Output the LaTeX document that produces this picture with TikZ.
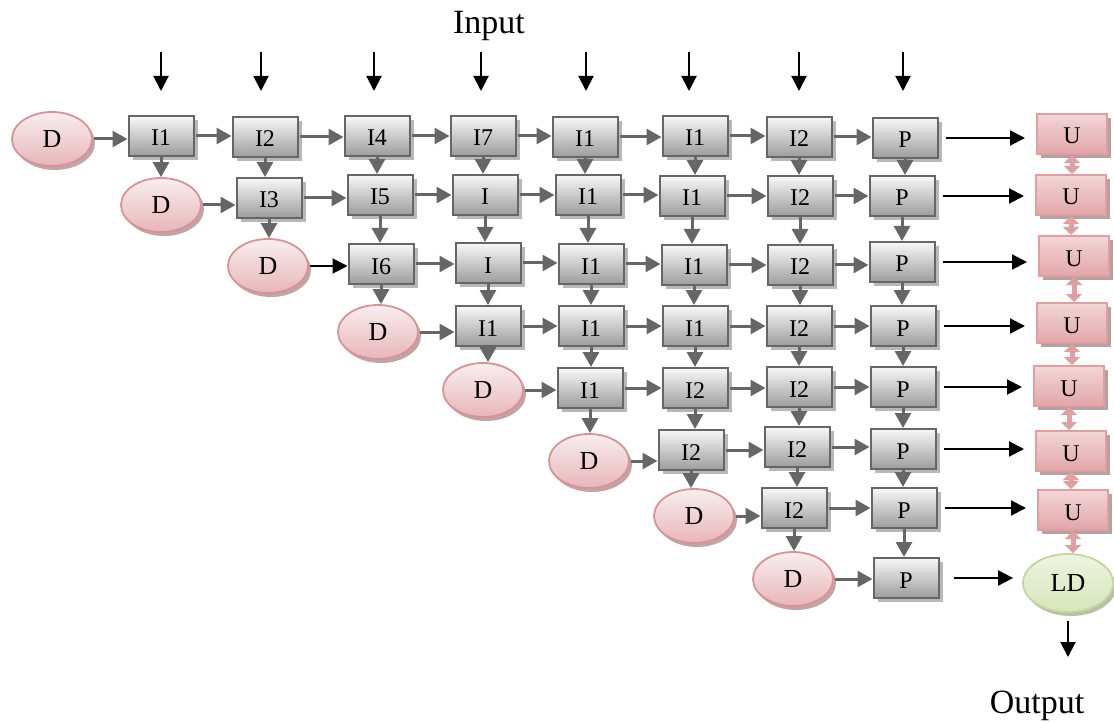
\documentclass[tikz,border=0pt]{standalone}
\usepackage{fontspec}
\setmainfont{Liberation Serif}
\usetikzlibrary{shapes.geometric,arrows.meta,shadows}
\definecolor{boxdraw}{HTML}{666666}
\definecolor{boxtop}{HTML}{F8F8F8}
\definecolor{boxbot}{HTML}{9C9C9C}
\definecolor{arrgray}{HTML}{666666}
\definecolor{pinkdraw}{HTML}{D99395}
\definecolor{pinktop}{HTML}{F8EEEF}
\definecolor{pinkbot}{HTML}{E8B6B9}
\definecolor{ubdraw}{HTML}{E0A0A2}
\definecolor{ubtop}{HTML}{F3D6D7}
\definecolor{ubbot}{HTML}{E2A6A9}
\definecolor{pinkarr}{HTML}{E0A0A2}
\definecolor{greendraw}{HTML}{C3D89A}
\definecolor{greentop}{HTML}{EEF4E2}
\definecolor{greenbot}{HTML}{D6E6B8}
\tikzset{
  cell/.style={draw=boxdraw, line width=2pt, top color=boxtop, bottom color=boxbot,
    minimum width=65pt, minimum height=40pt, inner sep=0pt,
    font=\fontsize{24}{24}\selectfont, text height=20pt, text depth=0pt,
    drop shadow={shadow xshift=4pt, shadow yshift=-4pt, fill=black!35, opacity=0.8}},
  dell/.style={ellipse, draw=pinkdraw, line width=1.8pt, top color=pinktop, bottom color=pinkbot,
    minimum width=80pt, minimum height=54pt, inner sep=0pt,
    font=\fontsize{26}{26}\selectfont,
    drop shadow={shadow xshift=3pt, shadow yshift=-4pt, fill=pinkdraw!70!black, opacity=0.6}},
  ubox/.style={draw=ubdraw, line width=2pt, top color=ubtop, bottom color=ubbot,
    minimum width=70pt, minimum height=40pt, inner sep=0pt,
    font=\fontsize{24}{24}\selectfont, text height=20pt, text depth=0pt,
    drop shadow={shadow xshift=4pt, shadow yshift=-4pt, fill=ubdraw!60!black, opacity=0.6}},
  gell/.style={ellipse, draw=greendraw, line width=1.8pt, top color=greentop, bottom color=greenbot,
    minimum width=90pt, minimum height=58pt, inner sep=0pt,
    font=\fontsize{26}{26}\selectfont,
    drop shadow={shadow xshift=3pt, shadow yshift=-4pt, fill=greendraw!70!black, opacity=0.6}},
  garr/.style={draw=arrgray, line width=3pt, -{Triangle[length=15pt,width=16pt]}},
  barr/.style={draw=black, line width=2pt, -{Triangle[length=15pt,width=15pt]}},
  parr/.style={draw=pinkarr, line width=5pt, {Triangle[length=8pt,width=16pt]}-{Triangle[length=8pt,width=16pt]}},
  bigtxt/.style={font=\fontsize{34}{34}\selectfont, inner sep=0pt},
}
\begin{document}
\begin{tikzpicture}[x=1pt,y=-1pt]
\useasboundingbox (0,0) rectangle (1114,722);
% Row 1
\node[dell] (D1) at (52,139) {D};
\node[cell] (a11) at (161,136) {I1};
\node[cell] (a12) at (265,137) {I2};
\node[cell] (a13) at (377,136) {I4};
\node[cell] (a14) at (483,136) {I7};
\node[cell] (a15) at (585,137) {I1};
\node[cell] (a16) at (695,136) {I1};
\node[cell] (a17) at (799,137) {I2};
\node[cell] (a18) at (905,138) {P};
\node[ubox] (U1) at (1072,134) {U};
% Row 2
\node[dell] (D2) at (161,205) {D};
\node[cell] (a22) at (269,198) {I3};
\node[cell] (a23) at (380,195) {I5};
\node[cell] (a24) at (485,195) {I};
\node[cell] (a25) at (588,195) {I1};
\node[cell] (a26) at (692,196) {I1};
\node[cell] (a27) at (800,196) {I2};
\node[cell] (a28) at (902,196) {P};
\node[ubox] (U2) at (1071,195) {U};
% Row 3
\node[dell] (D3) at (268,266) {D};
\node[cell] (a33) at (381,264) {I6};
\node[cell] (a34) at (488,263) {I};
\node[cell] (a35) at (591,264) {I1};
\node[cell] (a36) at (694,265) {I1};
\node[cell] (a37) at (800,265) {I2};
\node[cell] (a38) at (902,262) {P};
\node[ubox] (U3) at (1074,256) {U};
% Row 4
\node[dell] (D4) at (378,332) {D};
\node[cell] (a44) at (488,326) {I1};
\node[cell] (a45) at (591,326) {I1};
\node[cell] (a46) at (695,326) {I1};
\node[cell] (a47) at (799,326) {I2};
\node[cell] (a48) at (903,326) {P};
\node[ubox] (U4) at (1072,323) {U};
% Row 5
\node[dell] (D5) at (483,390) {D};
\node[cell] (a55) at (590,388) {I1};
\node[cell] (a56) at (695,388) {I2};
\node[cell] (a57) at (799,387) {I2};
\node[cell] (a58) at (903,387) {P};
\node[ubox] (U5) at (1069,386) {U};
% Row 6
\node[dell] (D6) at (589,461) {D};
\node[cell] (a66) at (691,450) {I2};
\node[cell] (a67) at (797,447) {I2};
\node[cell] (a68) at (903,449) {P};
\node[ubox] (U6) at (1071,451) {U};
% Row 7
\node[dell] (D7) at (694,516) {D};
\node[cell] (a77) at (794,508) {I2};
\node[cell] (a78) at (904,508) {P};
\node[ubox] (U7) at (1073,510) {U};
% Row 8
\node[dell] (D8) at (793,579) {D};
\node[cell] (a88) at (906,578) {P};
\node[gell] (LD) at (1068,583) {LD};
% texts
\node[bigtxt] (input) at (489,26) {Input};
\node[bigtxt] (output) at (1037,706) {Output};
% horizontal gray arrows
\foreach \a/\b in {D1/a11,a11/a12,a12/a13,a13/a14,a14/a15,a15/a16,a16/a17,a17/a18,
  D2/a22,a22/a23,a23/a24,a24/a25,a25/a26,a26/a27,a27/a28,
  a33/a34,a34/a35,a35/a36,a36/a37,a37/a38,
  D4/a44,a44/a45,a45/a46,a46/a47,a47/a48,
  D5/a55,a55/a56,a56/a57,a57/a58,
  D6/a66,a66/a67,a67/a68,
  D7/a77,a77/a78,
  D8/a88}
  \draw[garr, shorten <=1pt] (\a.east) -- (\b.west |- \a.east);
\draw[barr, shorten <=1pt] (D3.east) -- (a33.west |- D3.east);
% vertical gray arrows
\foreach \a/\b in {a11/D2,
  a12/a22,a22/D3,
  a13/a23,a23/a33,a33/D4,
  a14/a24,a24/a34,a34/a44,a44/D5,
  a15/a25,a25/a35,a35/a45,a45/a55,a55/D6,
  a16/a26,a26/a36,a36/a46,a46/a56,a56/a66,a66/D7,
  a17/a27,a27/a37,a37/a47,a47/a57,a57/a67,a67/a77,a77/D8,
  a18/a28,a28/a38,a38/a48,a48/a58,a58/a68,a68/a78,a78/a88}
  \draw[garr] (\a.south) -- (\a.south |- \b.north);
% input arrows
\foreach \n/\x in {1/161,2/261,3/374,4/481,5/586,6/689,7/799,8/903} {
  \coordinate (is\n) at (\x,52);
  \coordinate (ie\n) at (\x,91);
  \draw[barr] (is\n) -- (ie\n);
}
% outputs to U column
\foreach \r in {1,...,7}
  \draw[barr, shorten <=7pt, shorten >=11pt] (a\r8.east) -- (U\r.west |- a\r8.east);
\draw[barr, shorten <=14pt, shorten >=9pt] (a88.east) -- (LD.west |- a88.east);
% pink links
\foreach \a/\b in {U1/U2,U2/U3,U3/U4,U4/U5,U5/U6,U6/U7,U7/LD}
  \draw[parr] (\a.south) -- (\a.south |- \b.north);
% output arrow
\coordinate (oe) at (1068,657);
\draw[barr, shorten <=8pt] (LD.south) -- (oe);
\end{tikzpicture}
\end{document}
